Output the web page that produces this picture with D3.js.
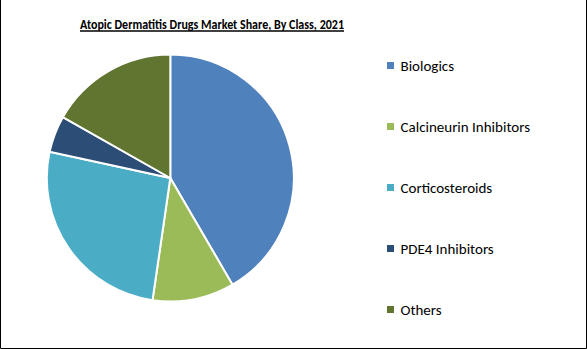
<!DOCTYPE html>
<html lang="en">
	<head>
		<meta charset="utf-8">
		<title>Atopic Dermatitis Drugs Market Share, By Class, 2021</title>
		<script type="text/javascript" src="https://d3js.org/d3.v7.min.js"></script>
		<style type="text/css">
			body{
				margin: 0;
				background: #fff;
			}
			svg text{
				font-family: Carlito, Calibri, "Open Sans", "Liberation Sans", sans-serif;
			}
		</style>
	</head>
	<body>
		<script type="text/javascript">

			//Width and height
			var w = 587;
			var h = 349;

			//Data
			var classes = ["Biologics", "Calcineurin Inhibitors", "Corticosteroids", "PDE4 Inhibitors", "Others"];
			var shares = [41.6, 10.7, 26.1, 4.8, 16.8];
			var colors = ["#4f81bd", "#9bbb59", "#4bacc6", "#2c4d75", "#5f7530"];
			var title = "Atopic Dermatitis Drugs Market Share, By Class, 2021";

			var dataset = classes.map(function(c, i) {
				return {name: c, value: shares[i]};
			});

			//Create SVG element
			var svg = d3.select("body")
						.append("svg")
						.attr("width", w)
						.attr("height", h);

			//Frame (left, right, bottom)
			svg.append("path")
			   .attr("d", "M0.5,0 V" + (h - 0.5) + " H" + (w - 0.5) + " V0")
			   .attr("fill", "none")
			   .attr("stroke", "#000")
			   .attr("stroke-width", 1);

			//Title
			svg.append("text")
			   .text(title)
			   .attr("x", 212)
			   .attr("y", 28.5)
			   .attr("text-anchor", "middle")
			   .attr("font-size", "14.5px")
			   .attr("font-weight", "bold")
			   .attr("textLength", 264)
			   .attr("lengthAdjust", "spacingAndGlyphs")
			   .attr("fill", "#000");
			svg.append("line")
			   .attr("x1", 80)
			   .attr("x2", 344)
			   .attr("y1", 31)
			   .attr("y2", 31)
			   .attr("stroke", "#000")
			   .attr("stroke-width", 1.3);

			//Pie
			var cx = 170.3, cy = 178, r = 123.5;
			var pie = d3.pie()
						.sort(null)
						.value(function(d) { return d.value; });
			var arc = d3.arc()
						.innerRadius(0)
						.outerRadius(r);
			var color = d3.scaleOrdinal()
						  .domain(classes)
						  .range(colors);

			svg.append("g")
			   .attr("transform", "translate(" + cx + "," + cy + ")")
			   .selectAll("path")
			   .data(pie(dataset))
			   .enter()
			   .append("path")
			   .attr("d", arc)
			   .attr("fill", function(d) { return color(d.data.name); })
			   .attr("stroke", "#fff")
			   .attr("stroke-width", 2)
			   .attr("stroke-linejoin", "round");

			//Legend
			var yLegend = d3.scalePoint()
							.domain(classes)
							.range([65.5, 309.5]);

			var legend = svg.selectAll("g.legend")
			   .data(classes)
			   .enter()
			   .append("g")
			   .attr("class", "legend")
			   .attr("transform", function(d) {
			   		return "translate(387," + yLegend(d) + ")";
			   });

			legend.append("rect")
			   .attr("x", 0)
			   .attr("y", -3.5)
			   .attr("width", 7)
			   .attr("height", 7)
			   .attr("fill", function(d) { return color(d); });

			legend.append("text")
			   .text(function(d) { return d; })
			   .attr("x", 13.5)
			   .attr("y", 0)
			   .attr("dy", "0.35em")
			   .attr("font-size", "15px")
			   .attr("fill", "#000");

		</script>
	</body>
</html>
